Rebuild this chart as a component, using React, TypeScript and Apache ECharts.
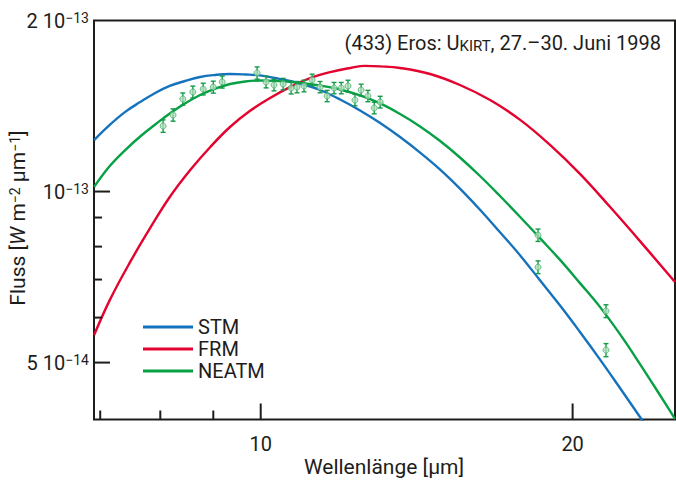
import { useEffect, useRef } from "react";
import * as echarts from "echarts";

const FONT = "Roboto, 'Noto Sans', sans-serif";
const INK = "#1d1d1b";

// Plot window: wavelength in µm, flux in units of 1e-13 W m^-2 µm^-1 (log-log)
const X_MIN = 6.904;
const X_MAX = 25.11;
const Y_MIN = 0.397;
const Y_MAX = 2.0;

// Standard thermal model
const stmWavelength = [6.906, 7.15, 7.4, 7.65, 7.91, 8.17, 8.45, 8.74, 9.04, 9.34, 9.66, 9.98, 10.32, 10.67, 11.04, 11.41, 11.93, 12.47, 13.04, 13.63, 14.25, 14.9, 15.57, 16.28, 17.02, 17.8, 18.6, 19.45, 20.33, 21.26, 22.22, 23.23, 24.29];
const stmFlux = [1.232, 1.31, 1.381, 1.437, 1.491, 1.534, 1.565, 1.591, 1.604, 1.61, 1.607, 1.601, 1.584, 1.565, 1.54, 1.509, 1.452, 1.389, 1.32, 1.247, 1.171, 1.093, 1.012, 0.929, 0.848, 0.772, 0.698, 0.63, 0.566, 0.506, 0.451, 0.401, 0.355];

// Fast rotating model
const frmWavelength = [6.906, 7.15, 7.48, 7.82, 8.17, 8.55, 8.94, 9.34, 9.76, 10.21, 10.67, 11.16, 11.67, 12.2, 12.61, 13.04, 13.63, 14.57, 15.57, 16.65, 17.8, 19.02, 20.33, 21.74, 23.23, 25.11];
const frmFlux = [0.559, 0.644, 0.751, 0.862, 0.978, 1.091, 1.198, 1.299, 1.386, 1.461, 1.527, 1.584, 1.623, 1.65, 1.664, 1.661, 1.65, 1.61, 1.54, 1.449, 1.337, 1.208, 1.074, 0.939, 0.818, 0.693];

// Near-Earth asteroid thermal model
const neatmWavelength = [6.906, 7.15, 7.4, 7.65, 7.91, 8.17, 8.45, 8.74, 9.04, 9.34, 9.66, 9.98, 10.32, 10.67, 11.04, 11.41, 11.93, 12.47, 13.04, 13.63, 14.25, 14.9, 15.57, 16.28, 17.02, 17.8, 18.6, 19.45, 20.33, 21.26, 22.22, 23.23, 24.29, 25.11];
const neatmFlux = [1.019, 1.109, 1.183, 1.25, 1.312, 1.372, 1.429, 1.479, 1.518, 1.546, 1.562, 1.568, 1.566, 1.56, 1.55, 1.537, 1.512, 1.476, 1.429, 1.369, 1.302, 1.227, 1.148, 1.065, 0.982, 0.902, 0.828, 0.758, 0.69, 0.626, 0.561, 0.497, 0.438, 0.398];

// UKIRT photometry with 1-sigma errors
const obsWavelength = [8.05, 8.23, 8.41, 8.6, 8.8, 9.0, 9.18, 9.92, 10.12, 10.3, 10.51, 10.7, 10.84, 11.01, 11.21, 11.41, 11.59, 11.77, 11.96, 12.14, 12.33, 12.5, 12.69, 12.87, 13.04, 18.52, 18.52, 21.54, 21.54];
const obsFlux = [1.304, 1.364, 1.455, 1.497, 1.515, 1.527, 1.559, 1.617, 1.559, 1.54, 1.546, 1.521, 1.527, 1.534, 1.572, 1.527, 1.473, 1.521, 1.521, 1.534, 1.449, 1.509, 1.473, 1.403, 1.437, 0.838, 0.736, 0.616, 0.526];
const obsError = [0.033, 0.034, 0.036, 0.036, 0.036, 0.037, 0.038, 0.04, 0.037, 0.036, 0.036, 0.036, 0.035, 0.036, 0.037, 0.035, 0.034, 0.035, 0.035, 0.036, 0.034, 0.036, 0.034, 0.033, 0.034, 0.021, 0.019, 0.016, 0.014];

// Axis ticks and labels
const xTickValues = [7, 8, 9, 10, 20];
const xTickMajor = [false, false, false, true, true];
const xTickLabels = ["", "", "", "10", "20"];
const yTickValues = [0.5, 0.6, 0.7, 0.8, 0.9, 1];
const yTickMajor = [true, false, false, false, false, true];
const yLabelValues = [2, 1, 0.5];
const yLabelTexts = ["2 10{e|\u221213}", "10{e|\u221213}", "5 10{e|\u221214}"];

const BLUE = "#1573bd";
const RED = "#e4032e";
const GREEN = "#07a045";
const BAR = "#159a48";

const pairs = (xs: number[], ys: number[]) => xs.map((x, i) => [x, ys[i]]);

const supRich = {
  e: { fontSize: 14, fontFamily: FONT, fill: INK, color: INK, verticalAlign: "top" },
};

function buildOption(): any {
  const lineSeries = (name: string, color: string, data: number[][]) => ({
    name,
    type: "line",
    data,
    smooth: 0.4,
    showSymbol: false,
    clip: true,
    color,
    lineStyle: { color, width: 2.4 },
    z: 3,
  });

  return {
    animation: false,
    backgroundColor: "#fff",
    grid: {
      show: true,
      left: 94,
      right: 1,
      top: 20.5,
      bottom: 68.5,
      borderColor: INK,
      borderWidth: 2,
      backgroundColor: "transparent",
    },
    xAxis: {
      type: "log",
      logBase: 10,
      min: X_MIN,
      max: X_MAX,
      axisLine: { show: false },
      axisTick: { show: false },
      axisLabel: { show: false },
      splitLine: { show: false },
    },
    yAxis: {
      type: "log",
      logBase: 10,
      min: Y_MIN,
      max: Y_MAX,
      axisLine: { show: false },
      axisTick: { show: false },
      axisLabel: { show: false },
      splitLine: { show: false },
    },
    legend: {
      data: ["STM", "FRM", "NEATM"],
      orient: "vertical",
      left: 143,
      top: 317,
      padding: 0,
      itemGap: 2,
      itemWidth: 50,
      itemHeight: 3,
      icon: "rect",
      selectedMode: false,
      textStyle: { fontSize: 20, fontFamily: FONT, color: INK, lineHeight: 20 },
    },
    graphic: [
      {
        type: "text",
        x: 661,
        y: 43,
        style: {
          text: "(433) Eros: U{sc|KIRT}, 27.\u201330. Juni 1998",
          fontSize: 20,
          fontFamily: FONT,
          fill: INK,
          align: "right",
          verticalAlign: "middle",
          rich: { sc: { fontSize: 15, fontFamily: FONT, fill: INK, verticalAlign: "bottom" } },
        },
      },
      {
        type: "text",
        x: 384,
        y: 467,
        style: {
          text: "Wellenlänge [\u03bcm]",
          fontSize: 21,
          fontFamily: FONT,
          fill: INK,
          align: "center",
          verticalAlign: "middle",
        },
      },
      {
        type: "text",
        x: 18,
        y: 218,
        rotation: Math.PI / 2,
        style: {
          text: "Fluss [{i|W} m{e|\u22122} \u03bcm{e|\u22121}]",
          fontSize: 21,
          fontFamily: FONT,
          fill: INK,
          align: "center",
          verticalAlign: "middle",
          rich: {
            i: { fontSize: 21, fontFamily: FONT, fontStyle: "italic", fill: INK },
            e: { fontSize: 14, fontFamily: FONT, fill: INK, verticalAlign: "top" },
          },
        },
      },
    ],
    series: [
      lineSeries("STM", BLUE, pairs(stmWavelength, stmFlux)),
      lineSeries("FRM", RED, pairs(frmWavelength, frmFlux)),
      lineSeries("NEATM", GREEN, pairs(neatmWavelength, neatmFlux)),
      {
        name: "errors",
        type: "custom",
        data: obsWavelength.map((w, i) => [w, obsFlux[i] - obsError[i], obsFlux[i] + obsError[i]]),
        encode: { x: 0, y: [1, 2] },
        z: 4,
        renderItem: (_params: any, api: any) => {
          const lo = api.coord([api.value(0), api.value(1)]);
          const hi = api.coord([api.value(0), api.value(2)]);
          const w = 2.5;
          const st = { stroke: BAR, lineWidth: 1.4 };
          return {
            type: "group",
            children: [
              { type: "line", shape: { x1: lo[0], y1: lo[1], x2: hi[0], y2: hi[1] }, style: st },
              { type: "line", shape: { x1: lo[0] - w, y1: lo[1], x2: lo[0] + w, y2: lo[1] }, style: st },
              { type: "line", shape: { x1: hi[0] - w, y1: hi[1], x2: hi[0] + w, y2: hi[1] }, style: st },
            ],
          };
        },
      },
      {
        name: "UKIRT",
        type: "scatter",
        data: pairs(obsWavelength, obsFlux),
        symbol: "circle",
        symbolSize: 6,
        z: 5,
        itemStyle: { color: "rgba(175,222,188,0.95)", borderColor: "#4cb36e", borderWidth: 1 },
      },
      {
        name: "xticks",
        type: "custom",
        data: xTickValues.map((v) => [v, Y_MIN]),
        encode: { x: 0, y: 1 },
        z: 6,
        renderItem: (params: any, api: any) => {
          const i = params.dataIndex;
          const p = api.coord([api.value(0), Y_MIN]);
          const len = xTickMajor[i] ? 16 : 9;
          const children: any[] = [
            { type: "line", shape: { x1: p[0], y1: p[1], x2: p[0], y2: p[1] - len }, style: { stroke: INK, lineWidth: 2 } },
          ];
          if (xTickLabels[i]) {
            children.push({
              type: "text",
              x: p[0],
              y: p[1] + 24,
              style: { text: xTickLabels[i], fontSize: 20, fontFamily: FONT, fill: INK, align: "center", verticalAlign: "middle" },
            });
          }
          return { type: "group", children };
        },
      },
      {
        name: "yticks",
        type: "custom",
        data: yTickValues.map((v) => [X_MIN, v]),
        encode: { x: 0, y: 1 },
        z: 6,
        renderItem: (params: any, api: any) => {
          const i = params.dataIndex;
          const p = api.coord([X_MIN, api.value(1)]);
          const len = yTickMajor[i] ? 16 : 8;
          return { type: "line", shape: { x1: p[0], y1: p[1], x2: p[0] + len, y2: p[1] }, style: { stroke: INK, lineWidth: 2 } };
        },
      },
      {
        name: "ylabels",
        type: "custom",
        data: yLabelValues.map((v) => [X_MIN, v]),
        encode: { x: 0, y: 1 },
        z: 6,
        renderItem: (params: any, api: any) => {
          const i = params.dataIndex;
          const p = api.coord([X_MIN, api.value(1)]);
          return {
            type: "text",
            x: p[0] - 5,
            y: p[1],
            style: {
              text: yLabelTexts[i],
              fontSize: 20,
              fontFamily: FONT,
              fill: INK,
              align: "right",
              verticalAlign: "middle",
              rich: supRich,
            },
          };
        },
      },
    ],
  };
}

export default function App() {
  const ref = useRef<HTMLDivElement>(null);
  useEffect(() => {
    if (!ref.current) return;
    const chart = echarts.init(ref.current, null, { renderer: "svg" });
    chart.setOption(buildOption());
    return () => chart.dispose();
  }, []);
  return (
    <div
      ref={ref}
      style={{ position: "fixed", left: 0, top: 0, width: 676, height: 488, background: "#fff" }}
    />
  );
}
